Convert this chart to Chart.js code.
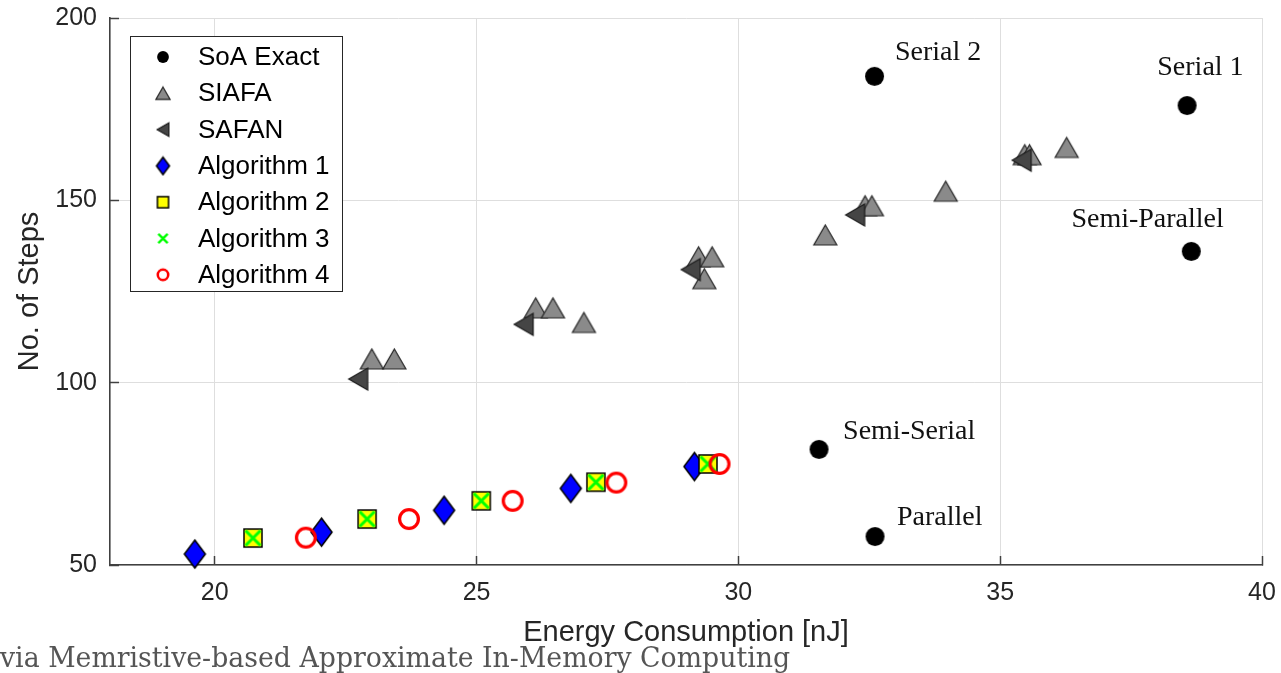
<!DOCTYPE html>
<html>
<head>
<meta charset="utf-8">
<script src="https://cdn.jsdelivr.net/npm/chart.js@4.4.1/dist/chart.umd.min.js"></script>
<style>
  html, body { margin: 0; padding: 0; background: #fff; overflow: hidden; }
  #wrap { position: relative; width: 1281px; height: 673px; }
  #footer {
    position: absolute; left: 0; top: 644px;
    font-family: 'DejaVu Serif', serif; font-size: 27px; line-height: 27px;
    color: #555555; white-space: nowrap; transform-origin: 0 0;
  }
</style>
</head>
<body>
<div id="wrap">
  <canvas id="chart" width="1281" height="673"></canvas>
  <div id="footer">via Memristive-based Approximate In-Memory Computing</div>
</div>
<script>
// ============================
// Données
// ============================
const seriesNames = ['SoA Exact', 'SIAFA', 'SAFAN', 'Algorithm 1', 'Algorithm 2', 'Algorithm 3', 'Algorithm 4'];

const soaEnergy = [32.6, 38.57, 38.65, 31.54, 32.61];
const soaSteps  = [184, 176, 136, 81.7, 57.8];
const soaNames  = ['Serial 2', 'Serial 1', 'Semi-Parallel', 'Semi-Serial', 'Parallel'];
// position du texte (gauche / ligne de base), en unités des axes
const soaLabelX = [32.99, 38.0, 36.36, 32.0, 33.03];
const soaLabelY = [188.5, 184.3, 142.6, 84.6, 61.0];

const siafaEnergy = [23.0, 23.43, 26.13, 26.46, 27.05, 29.24, 29.5, 29.35, 31.66, 32.42, 32.55, 33.96, 35.47, 35.56, 36.27];
const siafaSteps  = [106.5, 106.5, 120.5, 120.5, 116.5, 134.5, 134.5, 128.5, 140.5, 148.5, 148.5, 152.5, 162.5, 162.5, 164.5];

const safanEnergy = [22.74, 25.9, 29.09, 32.23, 35.41];
const safanSteps  = [101, 116, 131, 146, 161];

const alg1Energy = [19.62, 22.04, 24.38, 26.8, 29.16];
const alg1Steps  = [53, 59, 65, 71, 77];

const alg2Energy = [20.73, 22.91, 25.09, 27.28, 29.42];
const alg2Steps  = [57.4, 62.6, 67.6, 72.7, 77.7];

const alg3Energy = [20.73, 22.91, 25.09, 27.28, 29.42];
const alg3Steps  = [57.4, 62.6, 67.6, 72.7, 77.7];

const alg4Energy = [21.74, 23.71, 25.69, 27.67, 29.64];
const alg4Steps  = [57.5, 62.6, 67.6, 72.6, 77.7];

const xTicks = [20, 25, 30, 35, 40];
const yTicks = [50, 100, 150, 200];

// ============================
// Marqueurs (style MATLAB)
// ============================
function marker(w, h, draw) {
    const c = document.createElement('canvas');
    c.width = Math.round(w) + 4;
    c.height = Math.round(h) + 4;
    const g = c.getContext('2d');
    g.translate(c.width / 2, c.height / 2);
    draw(g, w / 2, h / 2);
    return c;
}

function dot(k) {
    return marker(19 * k, 19 * k, (g, rx) => {
        g.beginPath(); g.arc(0, 0, rx, 0, Math.PI * 2);
        g.fillStyle = '#000'; g.fill();
    });
}
function triUp(k) {
    return marker(23 * k, 20 * k, (g, rx, ry) => {
        g.beginPath(); g.moveTo(0, -ry); g.lineTo(rx, ry); g.lineTo(-rx, ry); g.closePath();
        g.fillStyle = '#8a8a8a'; g.fill();
        g.lineWidth = 1.2; g.strokeStyle = '#262626'; g.stroke();
    });
}
function triLeft(k) {
    return marker(19 * k, 22 * k, (g, rx, ry) => {
        g.beginPath(); g.moveTo(-rx, 0); g.lineTo(rx, -ry); g.lineTo(rx, ry); g.closePath();
        g.fillStyle = '#454545'; g.fill();
        g.lineWidth = 1.2; g.strokeStyle = '#1a1a1a'; g.stroke();
    });
}
function diamond(k) {
    return marker(21 * k, 28 * k, (g, rx, ry) => {
        g.beginPath(); g.moveTo(0, -ry); g.lineTo(rx, 0); g.lineTo(0, ry); g.lineTo(-rx, 0); g.closePath();
        g.fillStyle = '#0000ff'; g.fill();
        g.lineWidth = 1.5; g.strokeStyle = '#000'; g.stroke();
    });
}
function square(k) {
    return marker(18 * k, 18 * k, (g, rx, ry) => {
        g.fillStyle = '#ffff00'; g.fillRect(-rx, -ry, 2 * rx, 2 * ry);
        g.lineWidth = 1.5; g.strokeStyle = '#000'; g.strokeRect(-rx, -ry, 2 * rx, 2 * ry);
    });
}
function cross(k) {
    return marker(15 * k, 15 * k, (g, rx, ry) => {
        g.beginPath(); g.moveTo(-rx, -ry); g.lineTo(rx, ry); g.moveTo(rx, -ry); g.lineTo(-rx, ry);
        g.lineWidth = 3 * Math.max(k, 0.8); g.strokeStyle = '#00ff00'; g.stroke();
    });
}
function ring(k) {
    return marker(22 * k, 22 * k, (g, rx) => {
        g.beginPath(); g.arc(0, 0, rx - 1.6, 0, Math.PI * 2);
        g.lineWidth = 3.2 * Math.max(k, 0.8); g.strokeStyle = '#ff0000'; g.stroke();
    });
}

const makers = [dot, triUp, triLeft, diamond, square, cross, ring];
const plotMarks = makers.map(f => f(1));
const legendMarks = makers.map(f => f(0.62));

const seriesX = [soaEnergy, siafaEnergy, safanEnergy, alg1Energy, alg2Energy, alg3Energy, alg4Energy];
const seriesY = [soaSteps, siafaSteps, safanSteps, alg1Steps, alg2Steps, alg3Steps, alg4Steps];

const datasets = seriesNames.map((name, i) => ({
    label: name,
    data: seriesX[i].map((x, j) => ({ x, y: seriesY[i][j] })),
    pointStyle: plotMarks[i],
    pointRadius: 10,
    pointHoverRadius: 10,
    showLine: false,
    clip: false,
    order: seriesNames.length - i   // le dernier tracé passe dessus, comme MATLAB
}));

// ============================
// Plugins : légende et étiquettes
// ============================
const legendInside = {
    id: 'legendInside',
    afterDatasetsDraw(chart) {
        const { ctx, chartArea } = chart;
        const left = chartArea.left + 20, top = chartArea.top + 18;
        const w = 212, h = 255;
        ctx.save();
        ctx.fillStyle = '#fff';
        ctx.fillRect(left, top, w, h);
        ctx.lineWidth = 1;
        ctx.strokeStyle = '#262626';
        ctx.strokeRect(left + 0.5, top + 0.5, w, h);
        ctx.font = '26px "Liberation Sans", Arial, sans-serif';
        ctx.fillStyle = '#000';
        ctx.textBaseline = 'middle';
        seriesNames.forEach((name, i) => {
            const y = top + 21 + i * 36.3;
            const m = legendMarks[i];
            ctx.drawImage(m, left + 33 - m.width / 2, y - m.height / 2);
            ctx.fillText(name, left + 68, y + 1);
        });
        ctx.restore();
    }
};

const pointLabels = {
    id: 'pointLabels',
    afterDatasetsDraw(chart) {
        const { ctx, scales } = chart;
        ctx.save();
        ctx.font = '28px "Liberation Serif", "Times New Roman", serif';
        ctx.fillStyle = '#111';
        ctx.textBaseline = 'alphabetic';
        soaNames.forEach((t, i) => {
            ctx.fillText(t, scales.x.getPixelForValue(soaLabelX[i]), scales.y.getPixelForValue(soaLabelY[i]));
        });
        ctx.restore();
    }
};

// pas de marges automatiques : la zone du tracé est fixée par layout.padding
function fixBox(size) {
    return s => {
        if (s.isHorizontal()) s.height = size; else s.width = size;
        s.paddingLeft = s.paddingRight = s.paddingTop = s.paddingBottom = 0;
    };
}

// ============================
// Graphique
// ============================
Chart.defaults.font.family = '"Liberation Sans", Arial, sans-serif';
Chart.defaults.color = '#262626';

const ctx = document.getElementById('chart').getContext('2d');
const graphique = new Chart(ctx, {
    type: 'scatter',
    data: { datasets },
    options: {
        responsive: false,
        animation: false,
        devicePixelRatio: 1,
        events: [],
        layout: { padding: { left: 0, top: 18, right: 19, bottom: 0 } },
        plugins: { legend: { display: false }, tooltip: { enabled: false } },
        scales: {
            x: {
                type: 'linear', min: 18, max: 40,
                afterBuildTicks: s => { s.ticks = xTicks.map(v => ({ value: v })); },
                afterFit: fixBox(108),
                ticks: { font: { size: 25 }, padding: 22, callback: v => String(v) },
                grid: { color: '#dedede', lineWidth: 1, tickLength: -9, tickColor: '#404040', tickWidth: 1.5 },
                border: { display: true, color: '#404040', width: 1.6 },
                title: { display: true, text: 'Energy Consumption [nJ]', font: { size: 29 }, padding: { top: 0, bottom: 23 } }
            },
            y: {
                type: 'linear', min: 50, max: 200,
                afterBuildTicks: s => { s.ticks = yTicks.map(v => ({ value: v })); },
                afterFit: fixBox(110),
                ticks: { font: { size: 25 }, padding: 22, callback: v => String(v) },
                grid: { color: '#dedede', lineWidth: 1, tickLength: -9, tickColor: '#404040', tickWidth: 1.5 },
                border: { display: true, color: '#404040', width: 1.6 },
                title: { display: true, text: 'No. of Steps', font: { size: 29 }, padding: { top: 13, bottom: 0 } }
            }
        }
    },
    plugins: [legendInside, pointLabels]
});

// pied de page (texte de la diapositive) ajusté en largeur
const footer = document.getElementById('footer');
footer.style.transform = 'scaleX(' + (790 / footer.offsetWidth) + ')';
</script>
</body>
</html>
